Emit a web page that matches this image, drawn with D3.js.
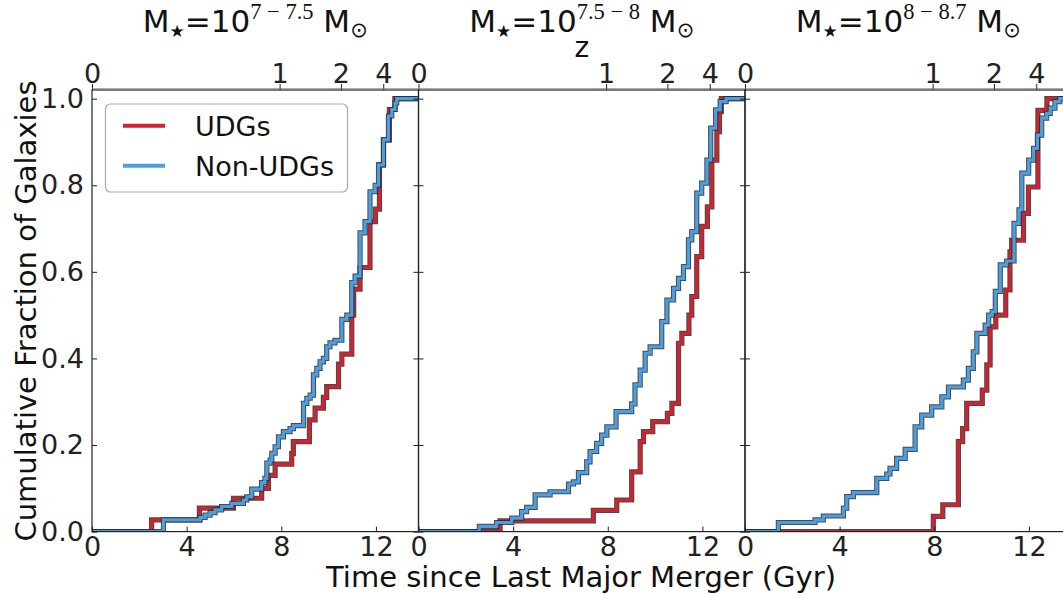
<!DOCTYPE html>
<html><head><meta charset="utf-8">
<script src="https://cdn.jsdelivr.net/npm/d3@7"></script>
<style>
body{margin:0;background:#fff;}
svg{display:block;font-family:"DejaVu Sans",sans-serif;}
</style></head><body>
<svg id="chart" width="1063" height="598"></svg>
<script>
// ---- data ----
const xTicks=[0,4,8,12];
const yTicks=[0,0.2,0.4,0.6,0.8,1.0];
const zTickLabels=["0","1","2","4"];
const zTickTimes=[0,7.93,10.52,12.31];
const massRanges=["7 \u2212 7.5","7.5 \u2212 8","8 \u2212 8.7"];
const seriesNames=["UDGs","Non-UDGs"];
const seriesColors=["#d1222f","#4a9fe3"];

const udg1T=[2.52,4.54,5.98,7.17,7.46,7.74,8.44,8.51,9.19,9.43,9.78,9.92,10.42,10.56,10.98,11.06,11.33,11.75,11.98,12.15,12.32,12.57,12.8];
const udg1F=[0.027,0.054,0.077,0.1,0.13,0.156,0.18,0.208,0.258,0.285,0.31,0.335,0.387,0.41,0.5,0.56,0.61,0.716,0.745,0.847,0.905,0.975,1.0];
const non1T=[3.02,4.57,4.78,4.99,5.2,5.48,5.91,6.4,6.54,6.75,7.17,7.31,7.39,7.53,7.6,7.74,7.88,8.09,8.37,8.51,8.94,9.08,9.22,9.36,9.5,9.64,9.78,9.92,10.06,10.27,10.56,10.77,10.98,11.12,11.33,11.54,11.75,11.97,12.11,12.32,12.53,12.67,12.81,12.88];
const non1F=[0.027,0.033,0.038,0.044,0.05,0.058,0.065,0.073,0.08,0.098,0.113,0.123,0.158,0.165,0.181,0.196,0.219,0.231,0.238,0.245,0.296,0.308,0.315,0.362,0.377,0.392,0.4,0.427,0.436,0.442,0.49,0.5,0.575,0.59,0.69,0.716,0.785,0.8,0.847,0.905,0.96,0.975,0.99,1.0];

const udg2T=[3.45,7.39,8.38,9.01,9.37,9.51,9.9,10.52,10.71,10.99,11.13,11.43,11.55,11.76,11.97,12.21,12.4,12.61,12.72,12.8];
const udg2F=[0.025,0.049,0.073,0.138,0.208,0.231,0.254,0.273,0.296,0.435,0.458,0.5,0.543,0.635,0.705,0.75,0.858,0.924,0.97,1.0];
const non2T=[2.57,3.3,3.94,4.36,4.57,4.93,5.56,6.34,6.55,6.76,7.11,7.25,7.53,7.74,7.96,8.35,9.01,9.15,9.37,9.58,9.79,10.28,10.5,10.78,10.99,11.2,11.41,11.55,11.76,11.97,12.19,12.35,12.56,12.75,13.0];
const non2F=[0.012,0.021,0.031,0.046,0.056,0.085,0.092,0.11,0.115,0.136,0.161,0.185,0.204,0.223,0.242,0.277,0.295,0.339,0.373,0.412,0.427,0.485,0.535,0.562,0.585,0.612,0.674,0.693,0.782,0.805,0.858,0.932,0.974,0.993,1.0];

const udg3T=[7.96,8.36,9.02,9.2,9.37,10.03,10.22,10.36,10.6,11.02,11.2,11.27,11.77,11.98,12.38,12.76];
const udg3F=[0.035,0.062,0.208,0.238,0.296,0.327,0.385,0.473,0.5,0.558,0.646,0.673,0.735,0.796,0.973,1.0];
const non3T=[1.41,2.96,3.31,4.16,4.3,4.58,5.57,5.99,6.13,6.41,6.77,7.19,7.47,7.89,8.32,8.6,9.23,9.44,9.65,9.8,10.15,10.3,10.45,10.58,10.79,11.06,11.37,11.58,11.7,11.99,12.2,12.36,12.54,12.75,12.9,13.1,13.3];
const non3F=[0.021,0.027,0.036,0.054,0.081,0.09,0.123,0.133,0.146,0.169,0.19,0.242,0.269,0.288,0.311,0.334,0.35,0.377,0.415,0.458,0.477,0.5,0.508,0.555,0.616,0.625,0.712,0.743,0.828,0.858,0.885,0.916,0.955,0.966,0.978,0.993,1.0];

const panelSeries=[
  [[udg1T,udg1F],[non1T,non1F]],
  [[udg2T,udg2F],[non2T,non2F]],
  [[udg3T,udg3F],[non3T,non3F]]
];
const xMax=13.8, yMax=1.02;

// ---- layout ----
const svg=d3.select("#chart");
const lefts=[92,418.5,745], W=326.5, plotTop=90, plotBottom=531.6;
const x=d3.scaleLinear().domain([0,xMax]).range([0,W]);
const y=d3.scaleLinear().domain([0,yMax]).range([plotBottom,plotTop]);
const line=d3.line().x(d=>x(d[0])).y(d=>y(d[1])).curve(d3.curveStepAfter);

function styleAxis(g,fs){
  g.attr("font-family","DejaVu Sans").attr("font-size",fs).attr("color","#222");
  g.select(".domain").remove();
  g.selectAll(".tick line").attr("stroke-width",1);
}

lefts.forEach((L,i)=>{
  const g=svg.append("g").attr("transform",`translate(${L},0)`);
  const cid="clip"+i;
  svg.append("defs").append("clipPath").attr("id",cid)
    .append("rect").attr("x",0).attr("y",plotTop).attr("width",W).attr("height",plotBottom-plotTop);
  const plot=g.append("g").attr("clip-path",`url(#${cid})`);
  panelSeries[i].forEach((s,k)=>{
    const pts=[[0,0]].concat(s[0].map((t,j)=>[t,s[1][j]])).concat([[xMax,1]]);
    plot.append("path").attr("d",line(pts)).attr("fill","none")
      .attr("stroke","#2a2a2a").attr("stroke-opacity",0.85).attr("stroke-width",5.2)
      .attr("stroke-linejoin","miter");
    plot.append("path").attr("d",line(pts)).attr("fill","none")
      .attr("stroke",seriesColors[k]).attr("stroke-width",3.2)
      .attr("stroke-linejoin","miter");
  });
  const ax=g.append("g").attr("transform",`translate(0,${plotBottom})`)
    .call(d3.axisBottom(x).tickValues(xTicks).tickSize(-5).tickPadding(5).tickFormat(d3.format("d")));
  styleAxis(ax,27);
  const ay=g.append("g")
    .call(d3.axisLeft(y).tickValues(yTicks).tickSize(-5).tickPadding(8)
      .tickFormat(i===0?d3.format(".1f"):()=>""));
  styleAxis(ay,27);
  const ay2=g.append("g").attr("transform",`translate(${W},0)`)
    .call(d3.axisRight(y).tickValues(yTicks).tickSize(-5).tickFormat(()=>""));
  styleAxis(ay2,27);
  const az=g.append("g").attr("transform",`translate(0,${plotTop})`)
    .call(d3.axisTop(x).tickValues(zTickTimes).tickSize(6).tickPadding(1)
      .tickFormat((d,j)=>zTickLabels[j]));
  styleAxis(az,27);
  g.append("rect").attr("x",0).attr("y",plotTop).attr("width",W).attr("height",plotBottom-plotTop)
    .attr("fill","none").attr("stroke","#222").attr("stroke-width",1.2);
  g.append("line").attr("x1",0).attr("x2",W).attr("y1",plotTop-1.5).attr("y2",plotTop-1.5)
    .attr("stroke","#777").attr("stroke-width",0.6);
  const cx=W/2;
  const t=g.append("text").attr("x",cx).attr("y",32).attr("text-anchor","middle")
    .attr("font-size",31).attr("fill","#111");
  t.append("tspan").text("M");
  t.append("tspan").attr("font-size",17).attr("dy",5).text("\u2605");
  t.append("tspan").attr("dy",-5).text("=10");
  t.append("tspan").attr("font-size",22.5).attr("dy",-13).attr("font-family","Liberation Serif").text(massRanges[i]);
  t.append("tspan").attr("dy",13).text(" M");
  t.append("tspan").attr("font-size",21).attr("dy",5).attr("font-family","DejaVu Sans").text("\u2299");
  if(i===1){
    g.append("text").attr("x",cx).attr("y",57).attr("text-anchor","middle")
      .attr("font-size",28).attr("fill","#111").text("z");
  }
  if(i===0){
    const lg=g.append("g");
    lg.append("rect").attr("x",13.5).attr("y",104).attr("width",242).attr("height",88)
      .attr("rx",5).attr("fill","#fff").attr("stroke","#aaa").attr("stroke-width",1.2);
    seriesNames.forEach((n,k)=>{
      const yy=125.7+k*40;
      lg.append("line").attr("x1",31).attr("x2",73).attr("y1",yy).attr("y2",yy)
        .attr("stroke",seriesColors[k]).attr("stroke-width",4);
      lg.append("text").attr("x",103).attr("y",yy+10).attr("font-size",27)
        .attr("fill","#111").text(n);
    });
  }
});

svg.append("text").attr("x",581).attr("y",587).attr("text-anchor","middle")
  .attr("font-size",29).attr("fill","#111").text("Time since Last Major Merger (Gyr)");
svg.append("text").attr("transform","translate(36,311) rotate(-90)").attr("text-anchor","middle")
  .attr("font-size",29).attr("fill","#111").text("Cumulative Fraction of Galaxies");
</script>
</body></html>
